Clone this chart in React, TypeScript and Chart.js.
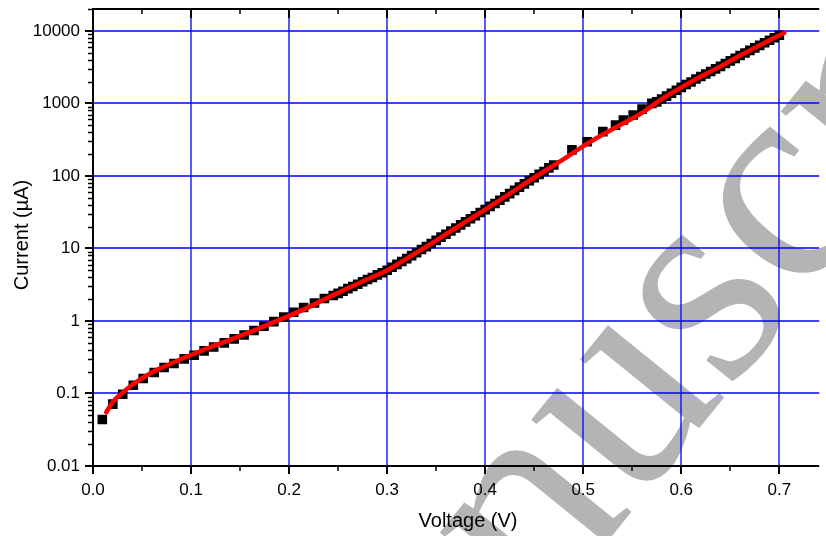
import React, { useEffect, useRef } from "react";
import { Chart, registerables } from "chart.js";

Chart.register(...registerables);

// ---- data ----
const MEAS_V = [
  0.0095, 0.0202, 0.0303, 0.0411, 0.0512, 0.0624, 0.0725, 0.0826, 0.093, 0.1031,
  0.1133, 0.1231, 0.1339, 0.144, 0.1541, 0.1642, 0.1744, 0.1845, 0.1946, 0.2047,
  0.2148, 0.2259, 0.236,
  0.245, 0.25, 0.255, 0.26, 0.265, 0.27, 0.275, 0.28, 0.285, 0.29, 0.295, 0.3,
  0.305, 0.31, 0.315, 0.32, 0.325, 0.33, 0.335, 0.34, 0.345, 0.35, 0.355, 0.36,
  0.365, 0.37, 0.375, 0.38, 0.385, 0.39, 0.395, 0.4, 0.405, 0.41, 0.415, 0.42,
  0.425, 0.43, 0.435, 0.44, 0.445, 0.45, 0.455, 0.46, 0.465, 0.47,
  0.4885, 0.504, 0.52, 0.533, 0.541, 0.551, 0.56, 0.57,
  0.575, 0.58, 0.585, 0.59, 0.595, 0.6, 0.605, 0.61, 0.615, 0.62, 0.625, 0.63,
  0.635, 0.64, 0.645, 0.65, 0.655, 0.66, 0.665, 0.67, 0.675, 0.68, 0.685, 0.69,
  0.695, 0.7,
];
const MEAS_I = [
  0.0438, 0.0713, 0.0977, 0.13, 0.161, 0.195, 0.228, 0.259, 0.3, 0.337,
  0.386, 0.438, 0.498, 0.565, 0.641, 0.738, 0.845, 0.98, 1.135, 1.318,
  1.53, 1.77, 2.04,
  2.24, 2.4, 2.57, 2.79, 2.99, 3.2, 3.47, 3.72, 3.98, 4.32, 4.62, 5.01,
  5.5, 6.03, 6.61, 7.24, 7.94, 8.71, 9.66, 10.6, 11.7, 12.9, 14.3, 15.7,
  17.4, 19.1, 21.1, 23.2, 25.7, 28.2, 31.3, 34.3, 38.0, 41.7, 46.2, 51.3,
  56.9, 63.1, 70.0, 77.6, 86.1, 94.4, 105, 115, 129, 141,
  228, 295, 407, 501, 589, 692, 832, 1000,
  1047, 1148, 1259, 1380, 1514, 1660, 1820, 1972, 2163, 2344, 2541, 2754,
  2985, 3236, 3548, 3846, 4169, 4571, 4955, 5370, 5821, 6310, 6839, 7413,
  8035, 8710,
];

const FIT_V = [
  0.0135, 0.02, 0.03, 0.04, 0.05, 0.06, 0.07, 0.08, 0.09, 0.1, 0.12, 0.14, 0.16,
  0.18, 0.2, 0.22, 0.24, 0.26, 0.28, 0.3, 0.32, 0.34, 0.36, 0.38, 0.4, 0.42, 0.44,
  0.46, 0.48, 0.5, 0.52, 0.54, 0.56, 0.58, 0.6, 0.62, 0.64, 0.66, 0.68, 0.7, 0.705,
];
const FIT_I = [
  0.055, 0.076, 0.102, 0.132, 0.162, 0.195, 0.226, 0.26, 0.299, 0.339, 0.437, 0.55,
  0.7, 0.91, 1.175, 1.55, 2.11, 2.82, 3.76, 5.01, 7.24, 10.6, 15.7, 23.2, 34.3, 51.3,
  77.6, 115, 170, 257, 372, 525, 741, 1148, 1660, 2344, 3236, 4571, 6310, 8710, 9333,
];

const X_TICKS = [0, 0.1, 0.2, 0.3, 0.4, 0.5, 0.6, 0.7];
const X_LABELS = ["0.0", "0.1", "0.2", "0.3", "0.4", "0.5", "0.6", "0.7"];
const Y_TICKS = [0.01, 0.1, 1, 10, 100, 1000, 10000];
const Y_LABELS = ["0.01", "0.1", "1", "10", "100", "1000", "10000"];

const X_TITLE = "Voltage (V)";
const Y_TITLE = "Current (\u00b5A)";
const WATERMARK = "Manuscript";

const X_MIN = 0;
const X_MAX = 0.7407;
const Y_MIN = 0.01;
const Y_MAX = 20000;

const FONT = '"Liberation Sans", Arial, sans-serif';
const GRID_COLOR = "#0000ff";

const framePlugin = {
  id: "frame",
  beforeDraw(chart: any) {
    const ctx = chart.ctx;
    const F = 296;
    ctx.save();
    ctx.font = `${F}px "Liberation Serif", "Times New Roman", serif`;
    ctx.fillStyle = "#b4b4b4";
    ctx.translate(628, 408);
    ctx.rotate((-51 * Math.PI) / 180);
    const pre = ctx.measureText("Man").width + ctx.measureText("u").width / 2;
    ctx.textBaseline = "alphabetic";
    ctx.textAlign = "left";
    ctx.fillText(WATERMARK, -pre, F * 0.23);
    ctx.restore();
  },
  beforeDatasetsDraw(chart: any) {
    const ctx = chart.ctx;
    const { left, right, top, bottom } = chart.chartArea;
    const xs = chart.scales.x;
    const ys = chart.scales.y;
    ctx.save();
    ctx.strokeStyle = GRID_COLOR;
    ctx.lineWidth = 1.3;
    ctx.beginPath();
    for (const v of X_TICKS) {
      if (v === 0) continue;
      const p = Math.round(xs.getPixelForValue(v));
      ctx.moveTo(p, top);
      ctx.lineTo(p, bottom);
    }
    for (const v of Y_TICKS) {
      if (v === Y_MIN) continue;
      const p = Math.round(ys.getPixelForValue(v));
      ctx.moveTo(left, p);
      ctx.lineTo(right, p);
    }
    ctx.stroke();
    ctx.restore();
  },
  afterDraw(chart: any) {
    const ctx = chart.ctx;
    const { left, right, top, bottom } = chart.chartArea;
    const xs = chart.scales.x;
    const ys = chart.scales.y;
    ctx.save();
    ctx.strokeStyle = "#000";
    ctx.lineCap = "butt";
    // major ticks
    ctx.lineWidth = 2;
    ctx.beginPath();
    for (const v of X_TICKS) {
      const p = Math.round(xs.getPixelForValue(v));
      ctx.moveTo(p, bottom);
      ctx.lineTo(p, bottom + 8);
      ctx.moveTo(p, top);
      ctx.lineTo(p, top + 9);
    }
    for (const v of Y_TICKS) {
      const p = Math.round(ys.getPixelForValue(v));
      ctx.moveTo(left - 8, p);
      ctx.lineTo(left, p);
    }
    ctx.stroke();
    // minor ticks
    ctx.lineWidth = 1.5;
    ctx.beginPath();
    for (let k = 0; k < 8; k++) {
      const v = k * 0.1 + 0.05;
      if (v > X_MAX) break;
      const p = Math.round(xs.getPixelForValue(v));
      ctx.moveTo(p, bottom);
      ctx.lineTo(p, bottom + 5);
      ctx.moveTo(p, top);
      ctx.lineTo(p, top + 5);
    }
    for (let e = -2; e <= 4; e++) {
      for (let m = 2; m <= 9; m++) {
        const v = m * Math.pow(10, e);
        if (v > Y_MAX) break;
        const p = Math.round(ys.getPixelForValue(v)) + 0.5;
        ctx.moveTo(left - 5, p);
        ctx.lineTo(left, p);
      }
    }
    ctx.stroke();
    // axis lines
    ctx.lineWidth = 2;
    ctx.beginPath();
    ctx.moveTo(right, top);
    ctx.lineTo(left, top);
    ctx.lineTo(left, bottom);
    ctx.lineTo(right, bottom);
    ctx.stroke();
    // titles
    ctx.fillStyle = "#000";
    ctx.font = `20px ${FONT}`;
    ctx.textAlign = "center";
    ctx.textBaseline = "middle";
    ctx.fillText(X_TITLE, 468, 521);
    ctx.translate(22, 235);
    ctx.rotate(-Math.PI / 2);
    ctx.fillText(Y_TITLE, 0, 0);
    ctx.restore();
  },
};

export default function App() {
  const ref = useRef<HTMLCanvasElement>(null);
  useEffect(() => {
    if (!ref.current) return;
    const chart = new Chart(ref.current, {
      type: "scatter",
      data: {
        datasets: [
          {
            label: "Fit",
            data: FIT_V.map((x, i) => ({ x, y: FIT_I[i] })),
            showLine: true,
            borderColor: "#ff0000",
            borderWidth: 4.5,
            pointRadius: 0,
            cubicInterpolationMode: "monotone",
            borderCapStyle: "round",
            borderJoinStyle: "round",
            order: 0,
          } as any,
          {
            label: "Measured",
            data: MEAS_V.map((x, i) => ({ x, y: MEAS_I[i] })),
            pointStyle: "rect",
            pointRadius: 6.8,
            backgroundColor: "#000",
            borderWidth: 0,
            order: 1,
          } as any,
        ],
      },
      options: {
        responsive: false,
        animation: false,
        layout: { padding: { top: 9, left: 0, right: 0, bottom: 0 } },
        plugins: { legend: { display: false }, tooltip: { enabled: false } },
        scales: {
          x: {
            type: "linear",
            min: X_MIN,
            max: X_MAX,
            border: { display: false },
            grid: { display: false, drawTicks: false },
            ticks: {
              color: "#000",
              font: { family: FONT, size: 17 },
              padding: 14,
              maxRotation: 0,
              callback: (_v: any, i: number) => X_LABELS[i],
            },
            afterBuildTicks: (s: any) => {
              s.ticks = X_TICKS.map((value) => ({ value }));
            },
            afterFit: (s: any) => {
              s.height = 70;
              s.paddingLeft = 0;
              s.paddingRight = 0;
            },
          },
          y: {
            type: "logarithmic",
            min: Y_MIN,
            max: Y_MAX,
            border: { display: false },
            grid: { display: false, drawTicks: false },
            ticks: {
              color: "#000",
              font: { family: FONT, size: 17 },
              padding: 13,
              callback: (_v: any, i: number) => Y_LABELS[i],
            },
            afterBuildTicks: (s: any) => {
              s.ticks = Y_TICKS.map((value) => ({ value }));
            },
            afterFit: (s: any) => {
              s.width = 93;
              s.paddingTop = 0;
              s.paddingBottom = 0;
            },
          },
        },
      },
      plugins: [framePlugin],
    });
    return () => chart.destroy();
  }, []);
  return (
    <div style={{ position: "fixed", left: 0, top: 0, width: 826, height: 536 }}>
      <canvas ref={ref} width={826} height={536} style={{ display: "block" }} />
    </div>
  );
}
